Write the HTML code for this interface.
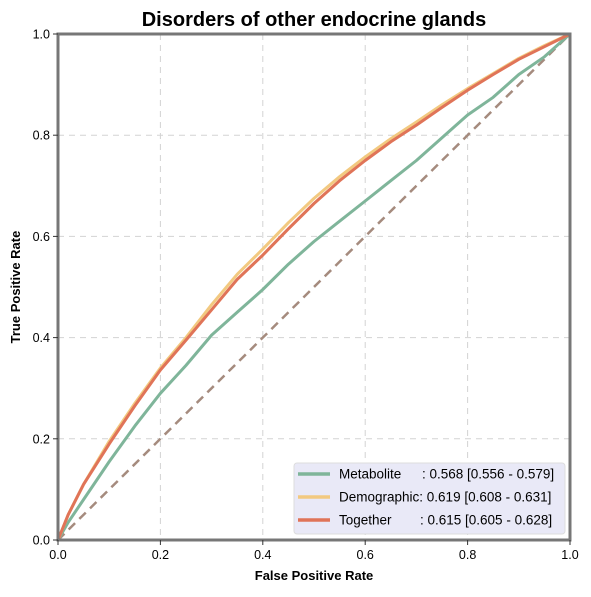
<!DOCTYPE html>
<html><head><meta charset="utf-8"><style>
body{margin:0;background:#fff;font-family:"Liberation Sans",sans-serif}
</style></head><body>
<svg id="chart" width="591" height="592" xmlns="http://www.w3.org/2000/svg" font-family="Liberation Sans, sans-serif">
<text x="314" y="26" text-anchor="middle" font-size="20" font-weight="bold">Disorders of other endocrine glands</text>
<g id="grid"></g>
<line x1="58" y1="540" x2="570" y2="34" stroke="#a58b7e" stroke-width="2.5" stroke-dasharray="9,6"/>
<g id="series"></g>
<rect x="58" y="34" width="512" height="506" fill="none" stroke="#777" stroke-width="3"/>
<g id="ticks" font-size="12.5"></g>
<text x="314" y="580" text-anchor="middle" font-size="13" font-weight="bold">False Positive Rate</text>
<text transform="translate(20,287) rotate(-90)" text-anchor="middle" font-size="13" font-weight="bold">True Positive Rate</text>
<g>
<rect x="294" y="463" width="271" height="71" rx="3" fill="#e9e9f7" stroke="#ddd"/>
<g><line x1="298" y1="474" x2="330" y2="474" stroke="#7fb59a" stroke-width="3.5"/><text x="339" y="478.5" font-size="13.5">Metabolite</text><text x="422" y="478.5" font-size="13.5">: 0.568 [0.556 - 0.579]</text></g>
<g><line x1="298" y1="497" x2="330" y2="497" stroke="#f2c980" stroke-width="3.5"/><text x="339" y="501.5" font-size="13.5">Demographic: 0.619 [0.608 - 0.631]</text></g>
<g><line x1="298" y1="520" x2="330" y2="520" stroke="#e07458" stroke-width="3.5"/><text x="339" y="524.5" font-size="13.5">Together</text><text x="420" y="524.5" font-size="13.5">: 0.615 [0.605 - 0.628]</text></g>
</g>
</svg>
<script>
const fprGrid = [0,0.02,0.05,0.1,0.15,0.2,0.25,0.3,0.35,0.4,0.45,0.5,0.55,0.6,0.65,0.7,0.75,0.8,0.85,0.9,0.95,1];
const tprTogether = [0,0.05,0.11,0.19,0.265,0.336,0.395,0.455,0.515,0.563,0.615,0.665,0.71,0.75,0.787,0.82,0.855,0.889,0.92,0.95,0.975,1];
const tprDemographic = [0,0.05,0.11,0.195,0.27,0.34,0.4,0.465,0.525,0.575,0.627,0.675,0.718,0.757,0.793,0.826,0.86,0.892,0.922,0.952,0.977,1];
const tprMetabolite = [0,0.035,0.08,0.155,0.225,0.29,0.345,0.405,0.45,0.495,0.545,0.59,0.63,0.67,0.71,0.75,0.795,0.84,0.875,0.92,0.955,1];
const tickValues = [0,0.2,0.4,0.6,0.8,1];
const tickLabels = ["0.0","0.2","0.4","0.6","0.8","1.0"];
const NS="http://www.w3.org/2000/svg";
const X=v=>58+v*512, Y=v=>540-v*506;
const grid=document.getElementById('grid'), ticks=document.getElementById('ticks'), ser=document.getElementById('series');
function mk(t,a,p){const e=document.createElementNS(NS,t);for(const k in a)e.setAttribute(k,a[k]);p.appendChild(e);return e;}
tickValues.forEach((v,i)=>{
  if(v>0&&v<1){
    const g1=mk('line',{x1:X(v),y1:34,x2:X(v),y2:540,stroke:'#d3d3d3','stroke-dasharray':'6,5'},grid);
    
    
    const g2=mk('line',{x1:58,y1:Y(v),x2:570,y2:Y(v),stroke:'#d3d3d3','stroke-dasharray':'6,5'},grid);
    
    
  }
  mk('line',{x1:X(v),y1:540,x2:X(v),y2:545,stroke:'#333'},ticks);
  const tx=mk('text',{x:X(v),y:559,'text-anchor':'middle'},ticks);tx.textContent=tickLabels[i];
  
  
  mk('line',{x1:53,y1:Y(v),x2:58,y2:Y(v),stroke:'#333'},ticks);
  const ty=mk('text',{x:50,y:Y(v)+4.5,'text-anchor':'end'},ticks);ty.textContent=tickLabels[i];
  
  
});
function line(vals,color,name){
  const d=fprGrid.map((f,i)=>(i?'L':'M')+X(f).toFixed(1)+','+Y(vals[i]).toFixed(1)).join('');
  const p=mk('path',{d:d,fill:'none',stroke:color,'stroke-width':3,'stroke-linejoin':'round'},ser);
  
  
}
line(tprMetabolite,'#7fb59a','metabolite-curve');
line(tprDemographic,'#f2c980','demographic-curve');
line(tprTogether,'#e07458','together-curve');
</script>
</body></html>
